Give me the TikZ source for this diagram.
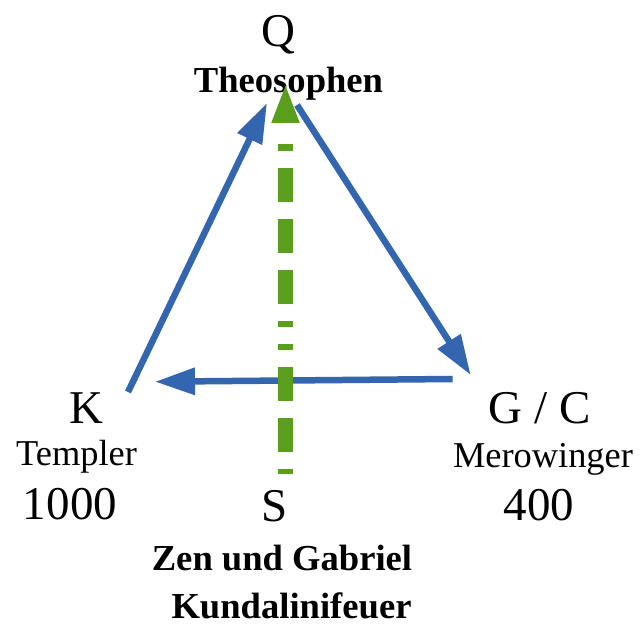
\documentclass[tikz,border=0pt]{standalone}
\usepackage{fontspec}
\setmainfont{Liberation Serif}
\usetikzlibrary{positioning,arrows.meta}

\definecolor{linkblue}{RGB}{52,102,176}
\definecolor{firegreen}{RGB}{90,158,30}

\begin{document}
\begin{tikzpicture}[x=0.5pt,y=-0.5pt,
    big/.style={anchor=base,inner sep=0pt,font=\fontsize{23.5}{28}\selectfont},
    sub/.style={anchor=base,inner sep=0pt,font=\fontsize{18.2}{22}\selectfont},
    group/.style={anchor=base,inner sep=0pt,font=\bfseries\fontsize{18.3}{22}\selectfont},
    link/.style={draw=linkblue,line width=3.25pt,-{Triangle[length=20pt,width=13pt]}},
    fire/.style={draw=firegreen,line width=7.5pt,-{Triangle[length=20pt,width=12.5pt]},
      dash pattern=on 2.5pt off 8.5pt on 17pt off 8.5pt on 17pt off 8.5pt on 3pt off 8.5pt
        on 3pt off 8.5pt on 17pt off 8.5pt on 17pt off 8.5pt on 17pt off 8.5pt on 3.5pt off 20pt}]

\useasboundingbox (0,0) rectangle (642,625);

\node[big] (q) at (278.5,47) {Q};
\node[group] (theo) at (288.5,93) {Theosophen};

\node[big] (k) at (86.5,423) {K};
\node[sub] (templer) at (76.5,465) {Templer};
\node[big] (k-year) at (70,519) {1000};

\node[big] (gc) at (539.5,423) {G / C};
\node[sub] (mero) at (543,467) {Merowinger};
\node[big] (gc-year) at (539,520) {400};

\node[big] (s) at (274.5,521) {S};
\node[group] (zen) at (282,570) {Zen und Gabriel};
\node[group] (kund) at (291.5,618) {Kundalinifeuer};

% arrow ends
\coordinate (k-out) at (128,392);
\coordinate (q-in) at (267,103);
\coordinate (q-out) at (297,105);
\coordinate (gc-in) at (470.7,375);
\coordinate (gc-out) at (452.7,379);
\coordinate (k-in) at (155,381.7);
\coordinate (s-out) at (285.5,474);
\coordinate (theo-in) at (285.5,83);

\draw[link] (k-out) -- (q-in);
\draw[link] (q-out) -- (gc-in);
\draw[link] (gc-out) -- (k-in);

\draw[fire] (s-out) -- (theo-in);

\end{tikzpicture}
\end{document}
